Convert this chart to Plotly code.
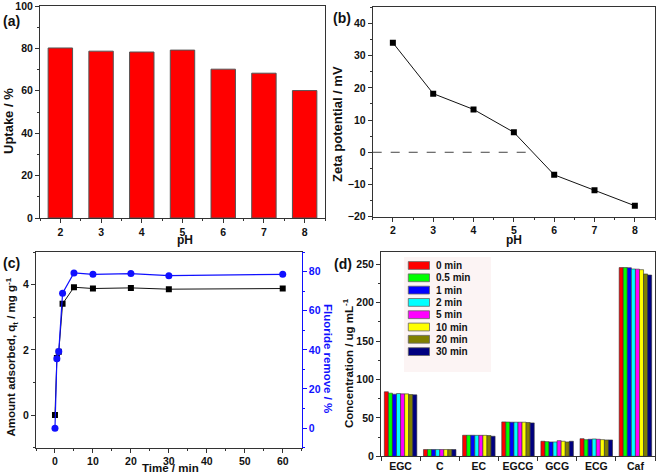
import plotly.graph_objects as go

# ---------------- data ----------------
ph = [2, 3, 4, 5, 6, 7, 8]
uptake = [80.2, 78.7, 78.3, 79.2, 70.2, 68.3, 60.1]
zeta = [34.0, 18.2, 13.3, 6.2, -7.0, -11.8, -16.6]

time_min = [0, 0.5, 1, 2, 5, 10, 20, 30, 60]
q_t = [0, 1.75, 1.94, 3.41, 3.92, 3.88, 3.90, 3.86, 3.88]
fluoride = [0, 35.4, 39.2, 68.9, 79.3, 78.6, 79.0, 77.9, 78.6]

compounds = ["EGC", "C", "EC", "EGCG", "GCG", "ECG", "Caf"]
series_names = ["0 min", "0.5 min", "1 min", "2 min", "5 min", "10 min", "20 min", "30 min"]
series_colors = ["#FF0000", "#00FF00", "#0000FF", "#00FFFF", "#FF00FF", "#FFFF00", "#808000", "#000080"]
conc = [
    [84.0, 8.8, 27.4, 44.8, 19.6, 23.0, 245.7],
    [82.2, 8.8, 27.4, 44.6, 19.1, 21.7, 245.7],
    [80.9, 8.8, 27.4, 44.4, 18.7, 22.2, 245.5],
    [81.7, 8.8, 27.3, 44.4, 18.7, 22.6, 243.9],
    [81.3, 8.8, 27.3, 44.4, 20.4, 22.2, 243.7],
    [81.3, 8.8, 27.3, 44.4, 19.6, 21.7, 243.0],
    [80.4, 8.8, 27.0, 44.0, 18.7, 21.3, 237.4],
    [80.0, 8.8, 26.1, 43.5, 19.6, 21.3, 236.0],
]

W, H = 660, 474
FONT = "Liberation Sans"
AX = "#333333"
BLUE = "#1010FF"


def px(x):
    return x / W


def py(y):
    return 1 - y / H


tickfont = dict(family=FONT, size=10.5, color="#111111", weight="bold")

fig = go.Figure()

# (a) bars
fig.add_trace(go.Bar(x=ph, y=uptake, width=0.6, marker=dict(color="#FF0000", line=dict(color="#555555", width=1)),
                     xaxis="x", yaxis="y", showlegend=False))

# (b) zeta potential + zero reference up to where the curve crosses zero
cross = None
for i in range(len(zeta) - 1):
    if zeta[i] > 0 >= zeta[i + 1]:
        cross = ph[i] + zeta[i] / (zeta[i] - zeta[i + 1])
fig.add_trace(go.Scatter(x=[1.5, cross], y=[0, 0], mode="lines", line=dict(color="#444444", width=1, dash="dash"),
                         xaxis="x2", yaxis="y2", showlegend=False, hoverinfo="skip"))
fig.add_trace(go.Scatter(x=ph, y=zeta, mode="lines+markers", line=dict(color="#111111", width=1),
                         marker=dict(symbol="square", size=6, color="#000000"),
                         xaxis="x2", yaxis="y2", showlegend=False))

# (c) kinetics
fig.add_trace(go.Scatter(x=time_min, y=q_t, mode="lines+markers", line=dict(color="#111111", width=1),
                         marker=dict(symbol="square", size=6, color="#000000"),
                         xaxis="x3", yaxis="y3", showlegend=False))
fig.add_trace(go.Scatter(x=time_min, y=fluoride, mode="lines+markers", line=dict(color=BLUE, width=1.2),
                         marker=dict(symbol="circle", size=7, color=BLUE),
                         xaxis="x3", yaxis="y5", showlegend=False))

# (d) grouped bars
for name, col, vals in zip(series_names, series_colors, conc):
    fig.add_trace(go.Bar(x=compounds, y=vals, name=name, marker=dict(color=col, line=dict(color="#333333", width=0.6)),
                         xaxis="x4", yaxis="y4", showlegend=False))


def axis(domain, anchor, rng, **kw):
    d = dict(domain=domain, anchor=anchor, range=rng, showline=True, linecolor=AX, linewidth=1,
             mirror=True, ticks="outside", ticklen=4, tickcolor=AX, tickwidth=1, tickfont=tickfont,
             showgrid=False, zeroline=False, automargin=False, tickangle=0)
    d.update(kw)
    return d


minor = lambda dt, col=AX: dict(ticks="outside", ticklen=2, tickcolor=col, dtick=dt, showgrid=False)

fig.update_layout(
    template="none",
    width=W, height=H, margin=dict(l=0, r=0, t=0, b=0, pad=0, autoexpand=False),
    paper_bgcolor="white", plot_bgcolor="white",
    barmode="group", bargap=0.17, bargroupgap=0,
    xaxis=axis([px(40), px(325)], "y", [1.5, 8.5], tickvals=ph, minor=minor(0.5)),
    yaxis=axis([py(218), py(6)], "x", [0, 100], dtick=20, minor=minor(10)),
    xaxis2=axis([px(372.7), px(655)], "y2", [1.5, 8.5], tickvals=ph, minor=minor(0.5)),
    yaxis2=axis([py(216.7), py(7.3)], "x2", [-20, 45], tickvals=[-20, -10, 0, 10, 20, 30, 40], minor=minor(5)),
    xaxis3=axis([px(36), px(301.7)], "y3", [-5, 65], dtick=10, minor=minor(5)),
    yaxis3=axis([py(447.7), py(252)], "x3", [-1, 5], tickvals=[0, 2, 4], minor=minor(1), mirror=False),
    yaxis5=dict(overlaying="y3", anchor="x3", side="right", range=[-10, 90], tickvals=[0, 20, 40, 60, 80],
                showline=True, linecolor=BLUE, linewidth=1, ticks="outside", ticklen=4, tickcolor=BLUE,
                tickfont=dict(family=FONT, size=10.5, color=BLUE, weight="bold"), showgrid=False,
                zeroline=False, automargin=False, minor=minor(10, BLUE)),
    xaxis4=axis([px(381), px(655)], "y4", [-0.5, 6.5], type="category", tickson="boundaries"),
    yaxis4=axis([py(456.3), py(252)], "x4", [0, 266], dtick=50, minor=minor(25)),
)

ann = []


def text(x, y, s, size=12, angle=0, color="#111111"):
    ann.append(dict(x=px(x), y=py(y), xref="paper", yref="paper", text=s, showarrow=False, textangle=angle,
                    xanchor="center", yanchor="middle",
                    font=dict(family=FONT, size=size, color=color, weight="bold")))


text(11, 21, "(a)", 14)
text(342, 17.5, "(b)", 14)
text(11, 263, "(c)", 14)
text(343, 264, "(d)", 14)
text(8, 121, "Uptake / %", 13, -90)
text(337, 124, "Zeta potential / mV", 13, -90)
text(11, 357.5, "Amount adsorbed, q<sub>t</sub> / mg g<sup>-1</sup>", 11.5, -90)
text(328, 358, "Fluoride remove / %", 11.5, 90, BLUE)
text(348, 363, "Concentration / ug mL<sup>-1</sup>", 11.5, -90)
text(185, 240, "pH", 12)
text(514, 240, "pH", 12)
text(170, 468, "Time / min", 11.5)

# manual legend for panel (d)
shapes = [dict(type="rect", xref="paper", yref="paper", x0=px(404), x1=px(491), y0=py(372), y1=py(257),
               fillcolor="#FCF4F4", line=dict(width=0), layer="below")]
for i, (name, col) in enumerate(zip(series_names, series_colors)):
    yc = 265.5 + i * 12.3
    shapes.append(dict(type="rect", xref="paper", yref="paper", x0=px(408.3), x1=px(429.5),
                       y0=py(yc + 3.9), y1=py(yc - 3.9), fillcolor=col, line=dict(color="#666666", width=0.8)))
    ann.append(dict(x=px(434), y=py(yc), xref="paper", yref="paper", text=name, showarrow=False,
                    xanchor="left", yanchor="middle", font=dict(family=FONT, size=10, color="#111111", weight="bold")))

fig.update_layout(annotations=ann, shapes=shapes)
fig.write_html("out.html", config={"displayModeBar": False},
               post_script="document.body.style.margin='0px';")
